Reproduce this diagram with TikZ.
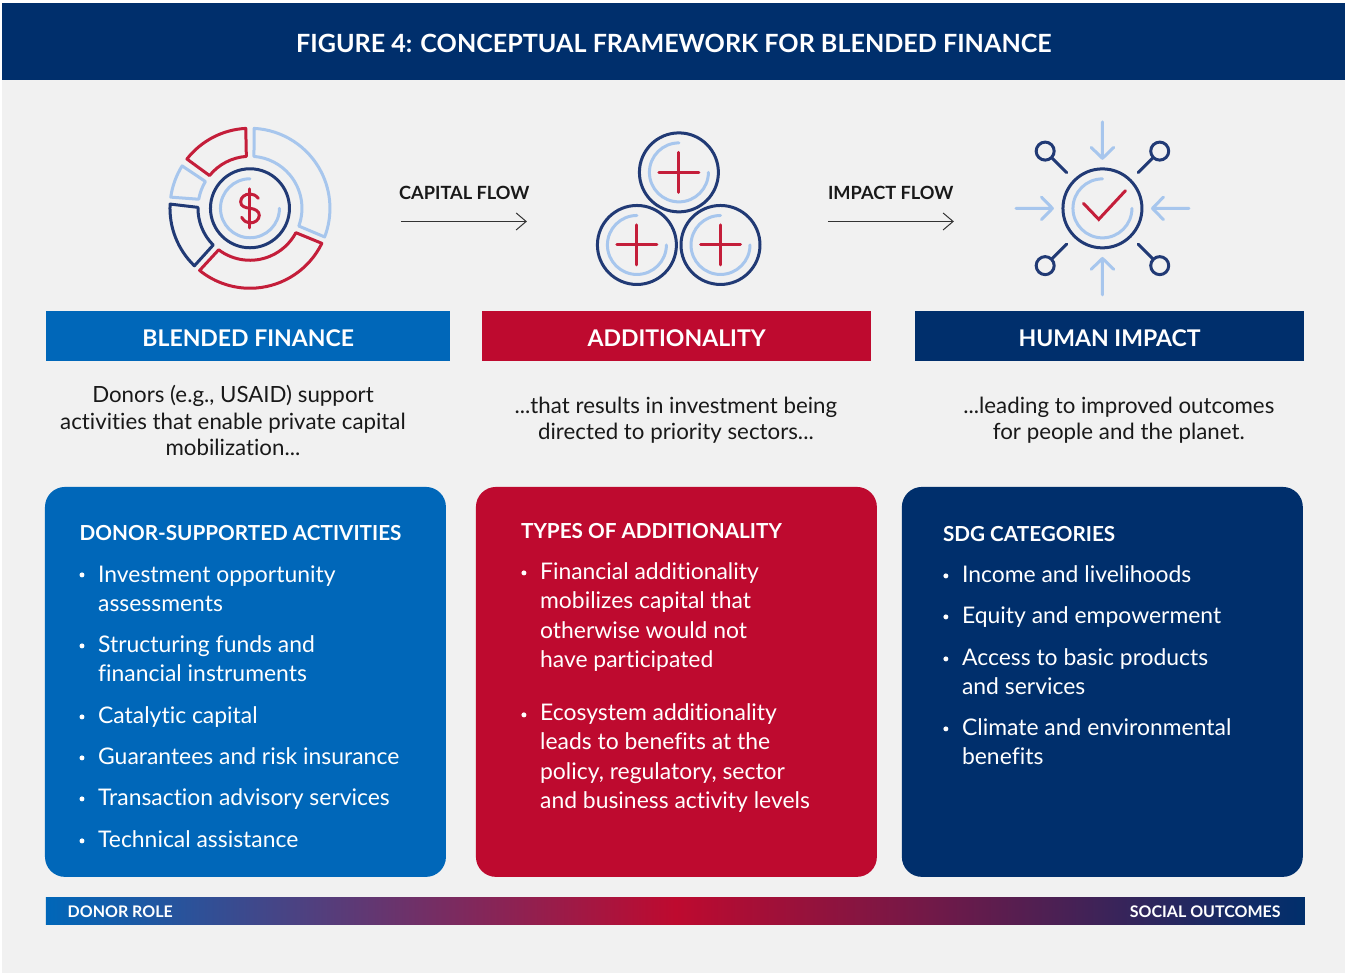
\documentclass[tikz,border=0pt]{standalone}
\usepackage{fontspec}
\setmainfont{Lato}[Ligatures=NoCommon]
\usetikzlibrary{arrows.meta,positioning,calc}
\definecolor{AidNavy}{RGB}{0,47,108}
\definecolor{AidBlue}{RGB}{0,103,185}
\definecolor{AidRed}{RGB}{190,10,47}
\definecolor{IconNavy}{RGB}{33,58,117}
\definecolor{IconRed}{RGB}{196,30,58}
\definecolor{IconLight}{RGB}{167,198,237}
\definecolor{PageGrey}{RGB}{241,241,241}
% ring segment: colour, inner from, inner to, outer from, outer to
\newcommand{\ringseg}[5]{\draw[#1, line join=round] (#2:52) arc[start angle=#2, end angle=#3, radius=52] -- (#5:80) arc[start angle=#5, end angle=#4, radius=80] -- cycle;}
\newcommand{\coin}{\draw[icnavy] (0,0) circle[radius=39.5];
  \draw[iclight] (90:29.5) arc[start angle=90, end angle=360, radius=29.5];}
\begin{document}
\begin{tikzpicture}[x=1pt, y=-1pt]
  \tikzset{
    icnavy/.style={draw=IconNavy, line width=3pt},
    iclight/.style={draw=IconLight, line width=3pt, line cap=round},
    icred/.style={draw=IconRed, line width=3pt, line cap=round},
    iconat/.style={shift={#1}, y=1pt},
    titlebar/.style={fill=#1, text=white, minimum height=50pt, inner sep=0pt, text height=20pt, text depth=0pt, font=\fontsize{23}{23}\selectfont\bfseries},
    panel/.style={fill=#1, rounded corners=20pt},
    lead/.style={anchor=base, align=center, text=black!90, font=\fontsize{22.3}{26.5}\selectfont, inner sep=0pt},
    head/.style={anchor=base west, text=white, inner sep=0pt, font=\fontsize{20.7}{21}\selectfont\bfseries},
    item/.style={anchor=base west, align=left, text=white, inner sep=0pt, font=\fontsize{22.9}{29.5}\selectfont},
    dot/.style={circle, fill=white, minimum size=5pt, inner sep=0pt},
    flowlab/.style={anchor=base west, inner sep=0pt, text=black!90, font=\fontsize{18.2}{19}\selectfont\bfseries},
    flow/.style={-{Straight Barb[length=10pt, width=17pt]}, line width=1pt, draw=black!80},
    barlab/.style={inner sep=0pt, text=white, font=\fontsize{16}{16}\selectfont\bfseries}
  }
  % page
  \fill[white] (0,0) rectangle (1345,974);
  \fill[PageGrey] (2,3) rectangle (1345,973);
  \node[fill=AidNavy, minimum width=1343pt, minimum height=77pt, inner sep=0pt, anchor=north west] (banner) at (2,3) {};
  \node[anchor=base, inner sep=0pt, text=white, font=\fontsize{25.1}{26}\selectfont\bfseries] (title) at (674,53) {FIGURE 4: CONCEPTUAL FRAMEWORK FOR BLENDED FINANCE};

  % icon: pie and dollar
  \begin{scope}[iconat={(250,208.3)}]
    \ringseg{icnavy}{179}{225}{177}{226}
    \ringseg{iclight}{149}{170}{148}{172}
    \ringseg{icred}{94}{141}{93}{142}
    \ringseg{iclight}{-20}{85.6}{-21}{87}
    \ringseg{icred}{233}{332}{231}{334}
    \coin
    \draw[icred] (8.3,10) .. controls (6,13) and (3,14.3) .. (0,14.3) .. controls (-5,14.3) and (-9.3,11) .. (-9.3,6.5) .. controls (-9.3,2) and (-5,0.5) .. (0,0) .. controls (5,-0.8) and (9.3,-2.5) .. (9.3,-7) .. controls (9.3,-11.5) and (5,-14.7) .. (0,-14.7) .. controls (-3,-14.7) and (-6,-13) .. (-8.3,-9);
    \draw[icred] (0,19.5) -- (0,-19.5);
  \end{scope}

  % icon: three coins
  \foreach \cx/\cy in {679/172.4, 637/245, 720.6/245}{
    \begin{scope}[iconat={(\cx,\cy)}]
      \coin
      \draw[icred] (-20,0) -- (20,0) (0,-20) -- (0,20);
    \end{scope}
  }

  % icon: check and arrows
  \begin{scope}[iconat={(1102.6,208.4)}]
    \coin
    \draw[icred, line join=miter] (-19,5) -- (-3.7,-11) -- (23,17.7);
    \foreach \r in {0,90,180,270}{
      \draw[iclight, rotate=\r, line join=round] (86.5,0) -- (50,0) (61,11.3) -- (50,0) -- (61,-11.3);
    }
    \foreach \r in {45,135,225,315}{
      \draw[icnavy, rotate=\r] (81,0) circle[radius=9];
      \draw[icnavy, line cap=round, rotate=\r] (71.5,0) -- (50.5,0);
    }
  \end{scope}

  % flows
  \node[flowlab] (capflow) at (399,200) {CAPITAL FLOW};
  \coordinate (capa) at (401,221.5);
  \coordinate (capb) at (527,221.5);
  \draw[flow] (capa) -- (capb);
  \node[flowlab] (impflow) at (828,200) {IMPACT FLOW};
  \coordinate (impa) at (828,221.5);
  \coordinate (impb) at (954,221.5);
  \draw[flow] (impa) -- (impb);

  % bars
  \node[titlebar=AidBlue, minimum width=404pt, anchor=north west] (blended) at (46,311) {BLENDED FINANCE};
  \node[titlebar=AidRed, minimum width=389pt, anchor=north west] (addit) at (482,311) {ADDITIONALITY};
  \node[titlebar=AidNavy, minimum width=389pt, anchor=north west] (human) at (915,311) {HUMAN IMPACT};

  % leads
  \node[lead] (leadb) at (233,456) {Donors (e.g., USAID) support\\activities that enable private capital\\mobilization...};
  \node[lead] (leada) at (676,440) {...that results in investment being\\directed to priority sectors...};
  \node[lead] (leadh) at (1119,440) {...leading to improved outcomes\\for people and the planet.};

  % panels
  \fill[panel=AidBlue] (45,487) rectangle (446,877);
  \fill[panel=AidRed] (476,487) rectangle (877,877);
  \fill[panel=AidNavy] (902,487) rectangle (1303,877);

  \node[head] (hb) at (79.5,541) {DONOR-SUPPORTED ACTIVITIES};
  \node[item] (b1) at (98,612) {Investment opportunity\\assessments};
  \node[item] (b2) at (98,682) {Structuring funds and\\financial instruments};
  \node[item] (b3) at (98,724) {Catalytic capital};
  \node[item] (b4) at (98,765) {Guarantees and risk insurance};
  \node[item] (b5) at (98,806) {Transaction advisory services};
  \node[item] (b6) at (98,848) {Technical assistance};
  \foreach \y in {575,646,717,758,799,841}{
    \node[dot] at (82,\y) {};
  }

  \node[head] (hr) at (521,539) {TYPES OF ADDITIONALITY};
  \node[item] (r1) at (540,668) {Financial additionality\\mobilizes capital that\\otherwise would not\\have participated};
  \node[item] (r2) at (540,809) {Ecosystem additionality\\leads to benefits at the\\policy, regulatory, sector\\and business activity levels};
  \foreach \y in {573,715}{
    \node[dot] at (524,\y) {};
  }

  \node[head] (hh) at (943,542) {SDG CATEGORIES};
  \node[item] (h1) at (962,583) {Income and livelihoods};
  \node[item] (h2) at (962,624) {Equity and empowerment};
  \node[item] (h3) at (962,695) {Access to basic products\\and services};
  \node[item] (h4) at (962,765) {Climate and environmental\\benefits};
  \foreach \y in {576,617,659,729}{
    \node[dot] at (946,\y) {};
  }

  % gradient strip
  \shade[left color=AidBlue, right color=AidNavy, middle color=AidRed] (46,897.5) rectangle (1305,925);
  \node[barlab, anchor=base west] (donor) at (67.5,917.5) {DONOR ROLE};
  \node[barlab, anchor=base east] (social) at (1281,917.5) {SOCIAL OUTCOMES};
\end{tikzpicture}
\end{document}
